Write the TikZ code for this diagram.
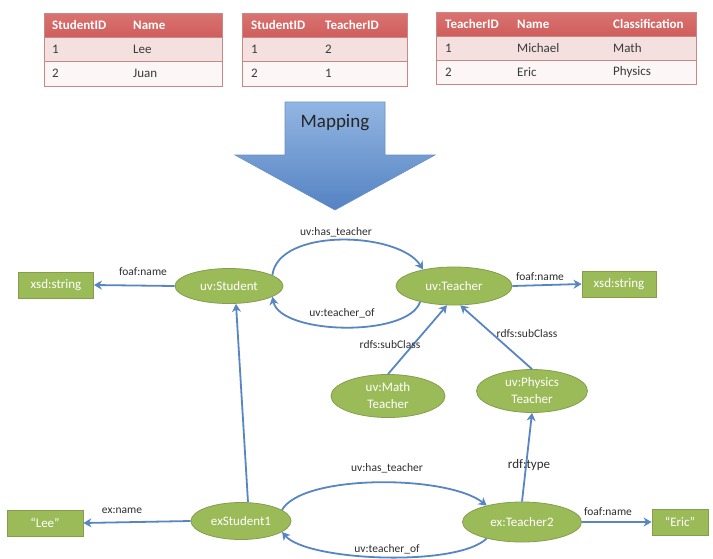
\documentclass[tikz,border=0pt]{standalone}
\usepackage{fontspec}
\setmainfont{Carlito}
\usetikzlibrary{shapes.geometric,arrows.meta}

\definecolor{hdrred}{HTML}{CF5E5C}
\definecolor{hdrtop}{HTML}{D97371}
\definecolor{rowpink}{HTML}{F4E0DF}
\definecolor{rowwhite}{HTML}{FCF6F6}
\definecolor{tblline}{HTML}{C98886}
\definecolor{bodygray}{HTML}{3A3A3A}
\definecolor{nodegreen}{HTML}{9BBB59}
\definecolor{nodeborder}{HTML}{849E4C}
\definecolor{edgeblue}{HTML}{5886C2}
\definecolor{labelgray}{HTML}{2E2E2E}
\definecolor{arrowtop}{HTML}{93B6E2}
\definecolor{arrowbot}{HTML}{5482C2}
\definecolor{arrowline}{HTML}{6A90C6}

\tikzset{
  hdrcell/.style={top color=hdrtop, bottom color=hdrred, draw=tblline, line width=0.6pt},
  rowA/.style={fill=rowpink, draw=tblline, line width=0.6pt},
  rowB/.style={fill=rowwhite, draw=tblline, line width=0.6pt},
  htext/.style={anchor=west, inner sep=0pt, text=white, font=\bfseries\fontsize{13}{15}\selectfont},
  btext/.style={anchor=west, inner sep=0pt, text=bodygray, font=\fontsize{13}{15}\selectfont},
  cls/.style={ellipse, draw=nodeborder, line width=0.8pt, fill=nodegreen, text=white,
    inner sep=0pt, align=center, font=\fontsize{13}{17}\selectfont},
  lit/.style={rectangle, draw=nodeborder, line width=0.8pt, fill=nodegreen, text=white,
    inner sep=0pt, minimum height=26pt, font=\fontsize{13}{15}\selectfont},
  lbl/.style={inner sep=0pt, text=labelgray, font=\fontsize{11.5}{13}\selectfont},
  rel/.style={draw=edgeblue, line width=1.8pt,
    -{Stealth[length=8pt,width=9pt,inset=2.5pt]}}
}

\begin{document}
\begin{tikzpicture}[x=1pt,y=-1pt]
\useasboundingbox (0,0) rectangle (713,558);
\fill[white] (0,0) rectangle (713,558);

% ---- Student table
\path[hdrcell] (44,13) rectangle (222,37);
\path[rowA] (44,37) rectangle (222,61);
\path[rowB] (44,61) rectangle (222,86);
\node[htext] (s1h1) at (52,25) {StudentID};
\node[htext] (s1h2) at (133,25) {Name};
\node[btext] (s1a1) at (52,49.5) {1};
\node[btext] (s1a2) at (133,49.5) {Lee};
\node[btext] (s1b1) at (52,73.5) {2};
\node[btext] (s1b2) at (133,73.5) {Juan};

% ---- Student/Teacher link table
\path[hdrcell] (242,13) rectangle (407,37);
\path[rowA] (242,37) rectangle (407,61);
\path[rowB] (242,61) rectangle (407,86);
\node[htext] (s2h1) at (251,25) {StudentID};
\node[htext] (s2h2) at (325,25) {TeacherID};
\node[btext] (s2a1) at (251,49.5) {1};
\node[btext] (s2a2) at (325,49.5) {2};
\node[btext] (s2b1) at (251,73.5) {2};
\node[btext] (s2b2) at (325,73.5) {1};

% ---- Teacher table
\path[hdrcell] (436,12) rectangle (696,36);
\path[rowA] (436,36) rectangle (696,60);
\path[rowB] (436,60) rectangle (696,84);
\node[htext] (s3h1) at (445,24) {TeacherID};
\node[htext] (s3h2) at (517,24) {Name};
\node[htext] (s3h3) at (613,24) {Classification};
\node[btext] (s3a1) at (445,48.5) {1};
\node[btext] (s3a2) at (517,48.5) {Michael};
\node[btext] (s3a3) at (613,48.5) {Math};
\node[btext] (s3b1) at (445,72.5) {2};
\node[btext] (s3b2) at (517,72.5) {Eric};
\node[btext] (s3b3) at (613,72.5) {Physics};

% ---- Mapping block arrow
\path[top color=arrowtop, bottom color=arrowbot, draw=arrowline, line width=0.6pt]
  (285,102) -- (385,102) -- (385,155) -- (435,155) -- (335,210)
  -- (235,155) -- (285,155) -- cycle;
\node[inner sep=0pt, text=black!85, font=\fontsize{19}{21}\selectfont] (map) at (335,123) {Mapping};

% ---- schema level
\node[cls, minimum width=108pt, minimum height=35pt] (stu) at (229,286) {uv:Student};
\node[cls, minimum width=116pt, minimum height=38pt] (tea) at (454,286) {uv:Teacher};
\node[lit, minimum width=75pt] (xs1) at (56,285) {xsd:string};
\node[lit, minimum width=74pt] (xs2) at (619,284) {xsd:string};
\node[cls, minimum width=114pt, minimum height=43pt] (math) at (388,396) {uv:Math\\Teacher};
\node[cls, minimum width=111pt, minimum height=43pt] (phys) at (532,391) {uv:Physics\\Teacher};

\draw[rel] (stu.west) -- (xs1.east);
\node[lbl] (l1) at (143,272) {foaf:name};
\draw[rel] (tea.east) -- (xs2.west);
\node[lbl] (l2) at (540,277) {foaf:name};

\draw[rel] (stu.14) .. controls +(6,-48) and +(-24,-38) .. (tea.152);
\node[lbl] (l3) at (336,232) {uv:has\_teacher};
\draw[rel] (tea.205) .. controls +(-12,36) and +(8,38) .. (stu.-14);
\node[lbl] (l4) at (342,313) {uv:teacher\_of};

\draw[rel] (math.north) -- (tea.250);
\node[lbl] (l5) at (390,345) {rdfs:subClass};
\draw[rel] (phys.north) -- (tea.288);
\node[lbl] (l6) at (527,334) {rdfs:subClass};

% ---- instance level
\node[cls, minimum width=100pt, minimum height=37pt] (ex1) at (241,521) {exStudent1};
\node[cls, minimum width=119pt, minimum height=40pt] (t2) at (522,522) {ex:Teacher2};
\node[lit, minimum width=76pt] (lee) at (45,523) {“Lee”};
\node[lit, minimum width=56pt] (eric) at (680,522) {“Eric”};

\draw[rel] ([xshift=7pt]ex1.north) -- ([xshift=7pt]stu.south);
\draw[rel] (t2.north) -- (phys.south);
\node[inner sep=0pt, text=labelgray, font=\fontsize{13}{15}\selectfont] (l7) at (529,465) {rdf:type};

\draw[rel] (ex1.west) -- (lee.east);
\node[lbl] (l8) at (122,511) {ex:name};
\draw[rel] (t2.east) -- (eric.west);
\node[lbl] (l9) at (608,512) {foaf:name};

\draw[rel] (ex1.15) .. controls +(20,-36) and +(-40,-31) .. (t2.155);
\node[lbl] (l10) at (387,468) {uv:has\_teacher};
\draw[rel] (t2.205) .. controls +(-30,29) and +(25,29) .. (ex1.-15);
\node[lbl] (l11) at (387,549) {uv:teacher\_of};
\end{tikzpicture}
\end{document}
